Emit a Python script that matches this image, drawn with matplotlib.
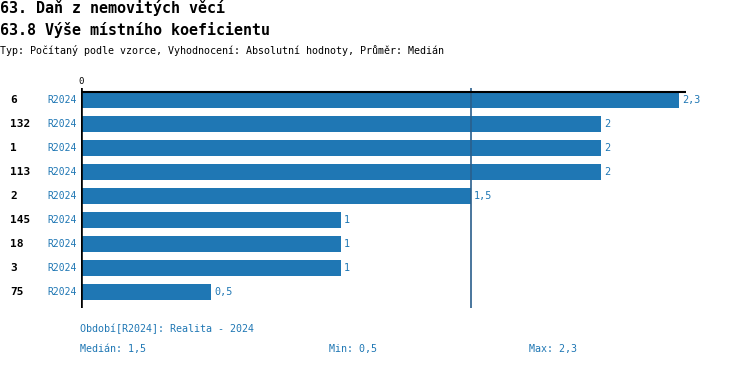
import matplotlib
matplotlib.use("Agg")
import matplotlib.pyplot as plt

W, H, DPI = 750, 368, 100
BLUE = "#1f77b4"
MONO = ["DejaVu Sans Mono"]

categories = ["6", "132", "1", "113", "2", "145", "18", "3", "75"]
period = "R2024"
values = [2.3, 2.0, 2.0, 2.0, 1.5, 1.0, 1.0, 1.0, 0.5]
value_labels = ["2,3", "2", "2", "2", "1,5", "1", "1", "1", "0,5"]
median, vmin, vmax = 1.5, 0.5, 2.3

title1 = "63. Daň z nemovitých věcí"
title2 = "63.8 Výše místního koeficientu"
subtitle = "Typ: Počítaný podle vzorce, Vyhodnocení: Absolutní hodnoty, Průměr: Medián"
legend_period = "Období[R2024]: Realita - 2024"

fig = plt.figure(figsize=(W / DPI, H / DPI), dpi=DPI, facecolor="white")


def px(x, y):
    # pixel coords (top-left origin) -> figure fraction
    return x / W, 1 - y / H


# axes: x=81 .. 731 px (0..2.5), y=88 .. 308 px
ax = fig.add_axes([81 / W, 1 - 308 / H, 650 / W, 220 / H])
ax.set_xlim(0, 2.5)
ax.set_ylim(8.667, -0.5)
ax.axis("off")

ypos = list(range(len(values)))
ax.barh(ypos, values, height=0.65, color=BLUE, zorder=2)

# median line
ax.axvline(median, color="#2a5f8c", linewidth=1.2, zorder=3)
# zero axis
ax.axvline(0, color="black", linewidth=2.6, zorder=4)
# top rule
ax.plot([0, max(values) + 0.027], [-0.33, -0.33], color="black", linewidth=1.5, zorder=4,
        solid_capstyle="butt")

for y, v, lab, cat in zip(ypos, values, value_labels, categories):
    ax.text(v + 0.012, y, lab, ha="left", va="center", fontsize=7.3, color=BLUE,
            family=MONO)
    ax.annotate(cat, xy=(0, y), xycoords="data", xytext=(10 - 81, 0),
                textcoords="offset pixels", ha="left", va="center",
                fontsize=8, fontweight="bold", color="black", family=MONO)
    ax.annotate(period, xy=(0, y), xycoords="data", xytext=(-4, 0),
                textcoords="offset pixels", ha="right", va="center",
                fontsize=7, color=BLUE, family=MONO)

fig.text(*px(81, 81), "0", ha="center", va="center", fontsize=6.5, color="black", family=MONO)

fig.text(*px(0, 8), title1, ha="left", va="center", fontsize=10.8, fontweight="bold", family=MONO)
fig.text(*px(0, 30), title2, ha="left", va="center", fontsize=10.8, fontweight="bold", family=MONO)
fig.text(*px(0, 50), subtitle, ha="left", va="center", fontsize=7.2, family=MONO)

fig.text(*px(80, 329), legend_period, ha="left", va="center", fontsize=7.2, color=BLUE, family=MONO)
fig.text(*px(80, 349), f"Medián: {median:.1f}".replace(".", ","), ha="left", va="center",
         fontsize=7.2, color=BLUE, family=MONO)
fig.text(*px(329, 349), f"Min: {vmin:.1f}".replace(".", ","), ha="left", va="center",
         fontsize=7.2, color=BLUE, family=MONO)
fig.text(*px(529, 349), f"Max: {vmax:.1f}".replace(".", ","), ha="left", va="center",
         fontsize=7.2, color=BLUE, family=MONO)

fig.savefig("out.png", dpi=DPI, facecolor="white")
